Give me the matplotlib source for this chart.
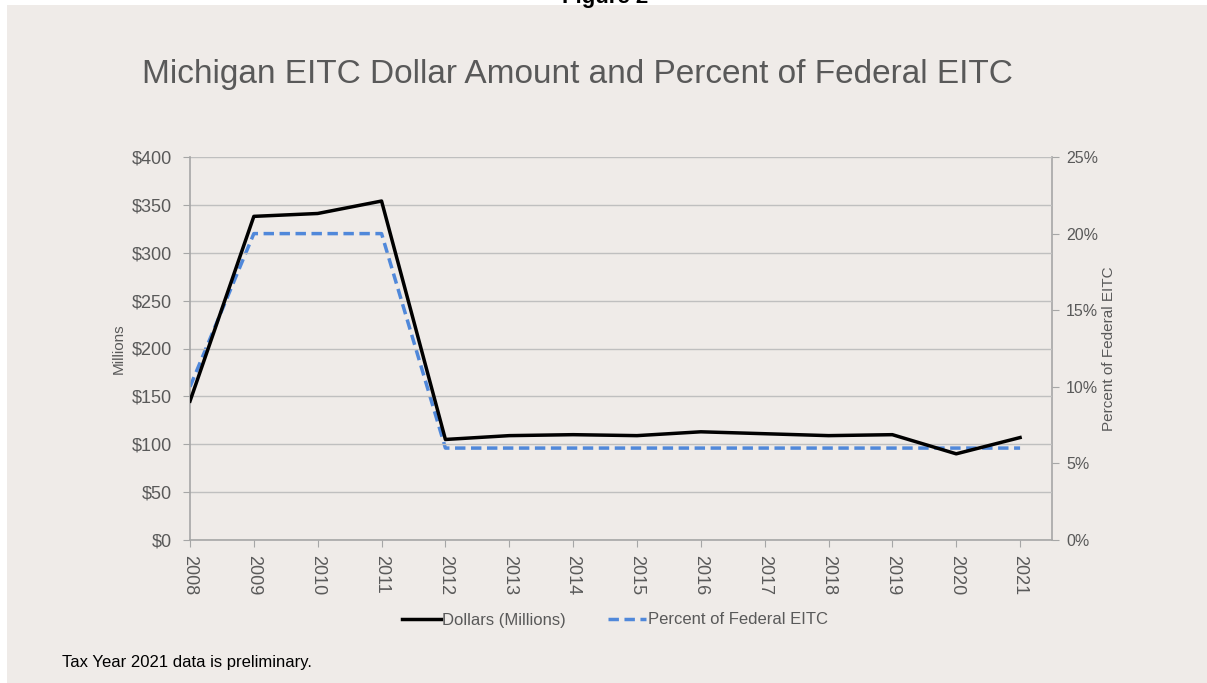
import matplotlib
matplotlib.use("Agg")
import matplotlib.pyplot as plt
from matplotlib.patches import Rectangle
from matplotlib.ticker import FuncFormatter, MultipleLocator

years = [2008, 2009, 2010, 2011, 2012, 2013, 2014, 2015, 2016, 2017, 2018, 2019, 2020, 2021]
dollars = [145, 338, 341, 354, 105, 109, 110, 109, 113, 111, 109, 110, 90, 107]
percent = [10, 20, 20, 20, 6, 6, 6, 6, 6, 6, 6, 6, 6, 6]
year_labels = [str(y) for y in years]

plt.rcParams['font.family'] = ['Liberation Sans', 'DejaVu Sans']

W, H = 1207, 683
fig = plt.figure(figsize=(W / 100, H / 100), dpi=100)
fig.patch.set_facecolor('white')
bg = '#EFEBE8'
fig.patches.append(Rectangle((7 / W, 0), 1 - 7 / W, 1 - 5 / H, transform=fig.transFigure,
                             facecolor=bg, edgecolor='none', zorder=-10))

# cut-off "Figure 2" at the top
fig.text(605 / W, 1 - 3 / H, 'Figure 2', ha='center', va='baseline', fontsize=16,
         fontweight='bold', color='black')

gray_txt = '#595959'
spine_c = '#A6A6A6'
grid_c = '#BFBFBF'

ax = fig.add_axes([190 / W, 1 - 540 / H, (1052 - 190) / W, (540 - 157) / H])
ax.set_facecolor('none')
ax.set_xlim(2008, 2021.5)
ax.set_ylim(0, 400)
ax.yaxis.set_major_locator(MultipleLocator(50))
ax.yaxis.set_major_formatter(FuncFormatter(lambda v, p: f'${v:.0f}'))
ax.set_xticks(years)
ax.set_xticklabels(year_labels, rotation=-90)
ax.grid(axis='y', color=grid_c, linewidth=1)
ax.set_axisbelow(True)
for s in ['top', 'right']:
    ax.spines[s].set_visible(False)
for s in ['left', 'bottom']:
    ax.spines[s].set_color(spine_c)
    ax.spines[s].set_linewidth(1.2)
ax.tick_params(axis='both', colors=spine_c, labelcolor=gray_txt, length=5, direction='out')
ax.tick_params(axis='y', labelsize=13, pad=8)
ax.tick_params(axis='x', labelsize=13, pad=6)
ax.set_ylabel('Millions', fontsize=11, color=gray_txt, labelpad=4)

ax2 = ax.twinx()
ax2.set_facecolor('none')
ax2.set_ylim(0, 25)
ax2.yaxis.set_major_locator(MultipleLocator(5))
ax2.yaxis.set_major_formatter(FuncFormatter(lambda v, p: f'{v:.0f}%'))
for s in ['top', 'left', 'bottom']:
    ax2.spines[s].set_visible(False)
ax2.spines['right'].set_color(spine_c)
ax2.spines['right'].set_linewidth(1.2)
ax2.tick_params(axis='y', colors=spine_c, labelcolor=gray_txt, length=5, labelsize=11.5, pad=5)
ax2.set_ylabel('Percent of Federal EITC', fontsize=11, color=gray_txt, labelpad=3)

l1, = ax.plot(years, dollars, color='black', linewidth=2.5, label='Dollars (Millions)', zorder=4)
l2, = ax2.plot(years, percent, color='#5088DA', linewidth=2.5, linestyle=(0, (3, 1.6)),
               label='Percent of Federal EITC', zorder=3)
ax2.set_zorder(1)
ax.set_zorder(2)

fig.suptitle('Michigan EITC Dollar Amount and Percent of Federal EITC', x=577 / W,
             y=1 - 75 / H, va='center', fontsize=24, color=gray_txt)

leg = fig.legend(handles=[l1, l2], loc='center', bbox_to_anchor=(615 / W, 1 - 620 / H), ncol=2,
                 frameon=False, fontsize=12, handlelength=2.3, handletextpad=0.1, columnspacing=2.5)
for t in leg.get_texts():
    t.set_color(gray_txt)

fig.text(62 / W, 1 - 662 / H, 'Tax Year 2021 data is preliminary.', ha='left', va='center',
         fontsize=12, color='black')

fig.savefig('out.png', dpi=100, facecolor=fig.get_facecolor())
